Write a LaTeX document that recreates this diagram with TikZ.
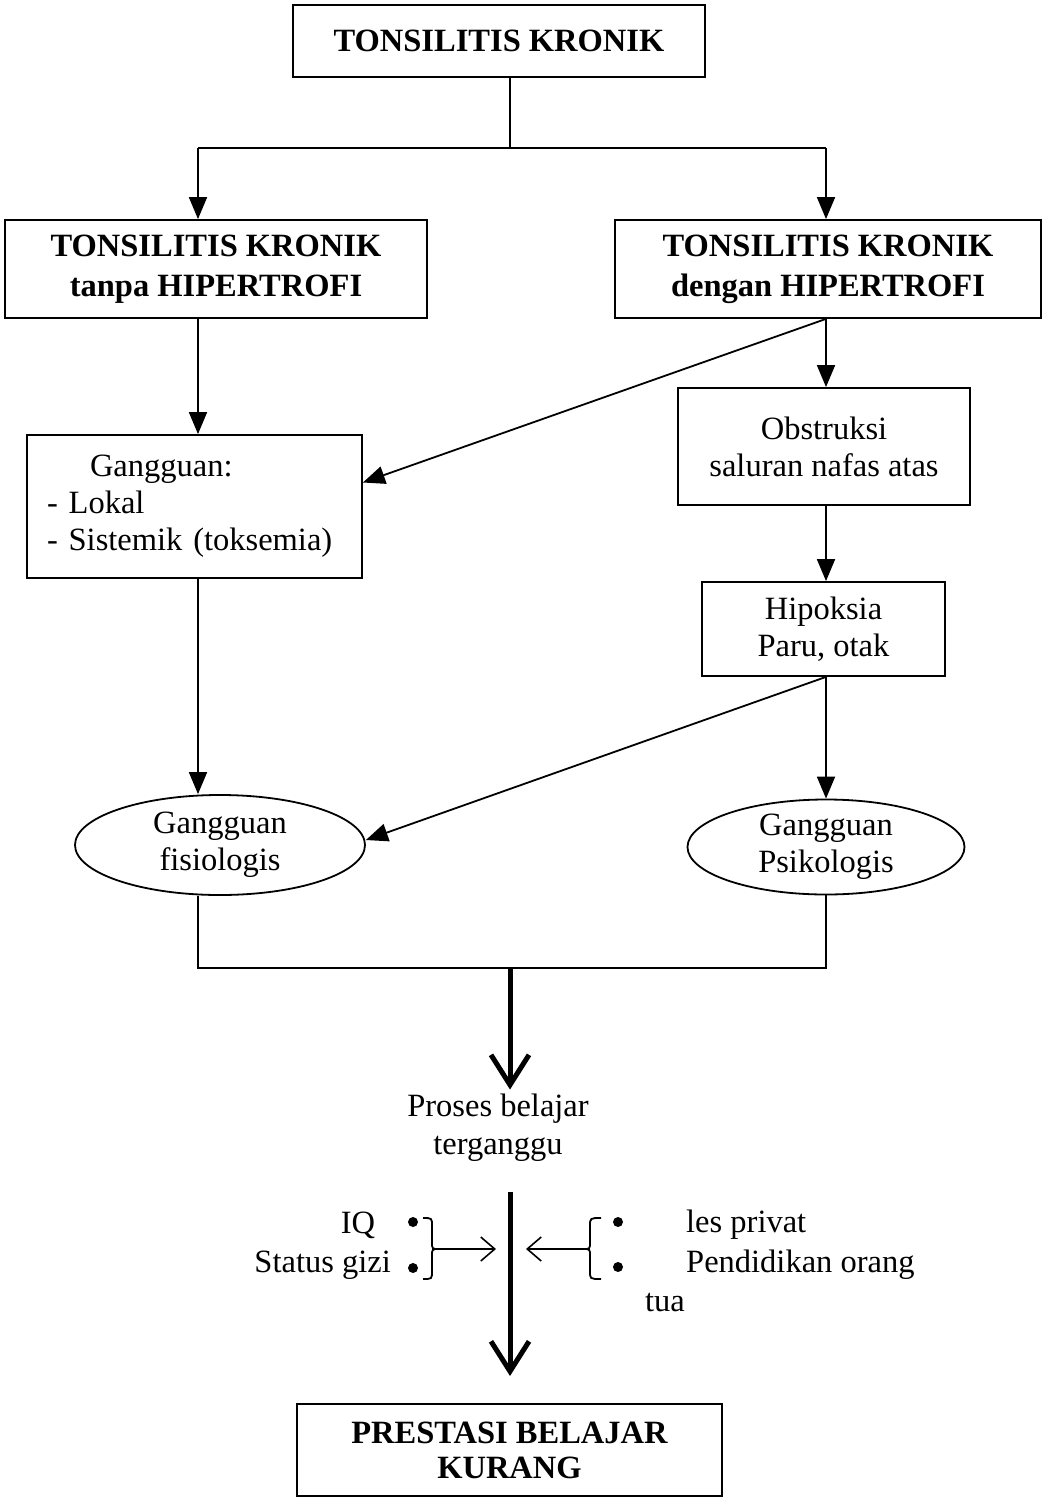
\documentclass[tikz,border=0pt]{standalone}
\usepackage{fontspec}
\setmainfont{Liberation Serif}
\usetikzlibrary{arrows.meta,shapes.geometric}
\begin{document}
\begin{tikzpicture}[x=1pt,y=-1pt,
  every node/.style={font=\fontsize{32.5}{38}\selectfont, inner sep=0pt},
  box/.style={draw, line width=1.8pt, align=center},
  titlebox/.style={box, font=\fontsize{32.5}{40}\selectfont\bfseries},
  oval/.style={draw, ellipse, line width=1.8pt, align=center, font=\fontsize{32.5}{37}\selectfont},
  link/.style={line width=1.8pt},
  arr/.style={link, -{Triangle[length=22pt,width=18pt]}},
  bigarr/.style={line width=5pt, -{Straight Barb[length=30pt,width=38pt]}},
  smallarr/.style={line width=1.6pt, -{Straight Barb[length=14pt,width=24pt]}},
  bracepath/.style={line width=1.8pt},
  dot/.style={circle, fill, minimum size=10pt},
  lbl/.style={align=center}]
\useasboundingbox (0,0) rectangle (1043,1499);

% boxes
\node[titlebox, minimum width=412pt, minimum height=72pt] (top) at (499,41) {TONSILITIS KRONIK};
\node[titlebox, minimum width=422pt, minimum height=98pt] (tkl) at (216,269) {TONSILITIS KRONIK\\tanpa HIPERTROFI};
\node[titlebox, minimum width=426pt, minimum height=98pt] (tkr) at (828,269) {TONSILITIS KRONIK\\dengan HIPERTROFI};
\node[box, minimum width=335pt, minimum height=143pt, text width=295pt, inner xsep=20pt, align=left,
      font=\fontsize{32.5}{37}\selectfont] (gg) at (194.5,506.5)
      {\hspace*{43pt}Gangguan:\\- Lokal\\- Sistemik (toksemia)};
\node[box, minimum width=292pt, minimum height=117pt, font=\fontsize{32.5}{37}\selectfont] (obs) at (824,446.5) {Obstruksi\\saluran nafas atas};
\node[box, minimum width=243pt, minimum height=94pt, font=\fontsize{32.5}{37}\selectfont] (hip) at (823.5,629) {Hipoksia\\Paru, otak};
\node[oval, minimum width=290pt, minimum height=100pt] (fis) at (220,845) {Gangguan\\fisiologis};
\node[oval, minimum width=277pt, minimum height=95pt] (psi) at (826,847) {Gangguan\\Psikologis};
\node[lbl] (pb) at (498,1127.5) {Proses belajar\\terganggu};
\node[titlebox, minimum width=425pt, minimum height=92pt, font=\fontsize{32.5}{35}\selectfont\bfseries] (pr) at (509.5,1450) {PRESTASI BELAJAR\\KURANG};

% junction points
\coordinate (j1) at (510,148);
\coordinate (jl) at (198,148);
\coordinate (jr) at (826,148);
\coordinate (m) at (510,968);
\coordinate (c1) at (510,1192);
\coordinate (c2) at (510,1376);

% tree from the top box
\draw[link] (top.south -| j1) -- (j1);
\draw[arr] (jl) -- (jr) (jl) -- (jl |- tkl.north);
\draw[arr] (jr) -- (jr |- tkr.north);
\draw[arr] (tkl.south -| jl) -- (gg.north -| jl);
\draw[arr] (tkr.south -| jr) -- ([yshift=24pt]gg.east);
\draw[arr] (tkr.south -| jr) -- (obs.north -| jr);
\draw[arr] (obs.south -| jr) -- (hip.north -| jr);
\draw[arr] (gg.south -| jl) -- (fis.north -| jl);
\draw[arr] (hip.south -| jr) -- ([yshift=5pt]fis.east);
\draw[arr] (hip.south -| jr) -- (psi.north -| jr);

% merge into learning process
\draw[link] (fis.south -| jl) -- (jl |- m) -- (jr |- m) -- (psi.south -| jr);
\draw[bigarr] (m) -- ([yshift=4pt]pb.north -| m);
\draw[bigarr] (c1) -- (c2);

% influencing factors
\node (iq) at (358,1225) {IQ};
\node[anchor=east] (sg) at (391,1265) {Status gizi};
\node[dot] (d1) at (413,1222) {};
\node[dot] (d2) at (413,1268) {};
\node[dot] (d3) at (618,1222) {};
\node[dot] (d4) at (618,1267) {};
\node[anchor=west] (les) at (686,1225) {les privat};
\node[anchor=west] (pend) at (686,1265) {Pendidikan orang};
\node[anchor=west] (tua) at (645,1302) {tua};

\coordinate (bL) at (439,1249);
\coordinate (vL) at (496,1249);
\coordinate (bR) at (583,1249);
\coordinate (vR) at (526,1249);

\draw[bracepath] (423,1218) .. controls (432,1218) .. (432,1226) -- (432,1242)
  .. controls (432,1249) .. (bL) .. controls (432,1249) .. (432,1256) -- (432,1271)
  .. controls (432,1279) .. (423,1279);
\draw[bracepath] (601,1218) .. controls (590,1218) .. (590,1226) -- (590,1242)
  .. controls (590,1249) .. (bR) .. controls (590,1249) .. (590,1256) -- (590,1271)
  .. controls (590,1279) .. (601,1279);
\draw[smallarr] (bL) -- (vL);
\draw[smallarr] (bR) -- (vR);
\end{tikzpicture}
\end{document}
